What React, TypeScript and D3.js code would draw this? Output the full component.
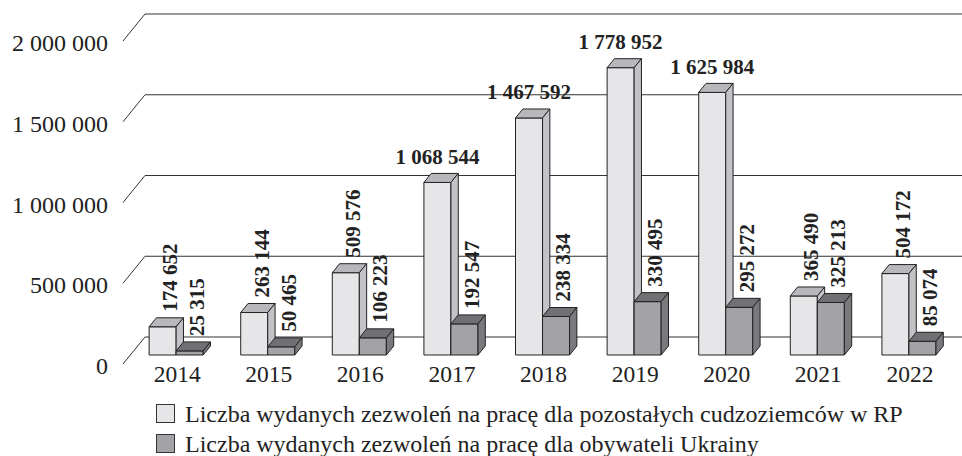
import React from "react";
import * as d3 from "d3";

const years = ["2014", "2015", "2016", "2017", "2018", "2019", "2020", "2021", "2022"];
const others = [174652, 263144, 509576, 1068544, 1467592, 1778952, 1625984, 365490, 504172];
const ukraine = [25315, 50465, 106223, 192547, 238334, 330495, 295272, 325213, 85074];
const yTicks = [0, 500000, 1000000, 1500000, 2000000];
const seriesNames = [
  "Liczba wydanych zezwoleń na pracę dla pozostałych cudzoziemców w RP",
  "Liczba wydanych zezwoleń na pracę dla obywateli Ukrainy",
];
const horizontalLabel = [false, false, false, true, true, true, true, false, false];

const W = 962;
const H = 456;
const FLOOR_FRONT_Y = 364;
const FLOOR_LEFT = 123;
const FLOOR_RIGHT = 947.4;
const DEPTH_DX = 22;
const DEPTH_DY = -27;
const BAR_DX = DEPTH_DX / 3;
const BAR_DY = DEPTH_DY / 3;

const colors = {
  light: { front: "#e6e6e8", top: "#b8b8bc", side: "#c3c3c7" },
  dark: { front: "#a3a3a7", top: "#717175", side: "#7a7a7e" },
};

const fmt = (v: number) => d3.format(",")(v).replace(/,/g, " ");

function Bar3D({ x, yb, w, h, c }: { x: number; yb: number; w: number; h: number; c: any }) {
  const yt = yb - h;
  const top = [
    [x, yt],
    [x + BAR_DX, yt + BAR_DY],
    [x + w + BAR_DX, yt + BAR_DY],
    [x + w, yt],
  ];
  const side = [
    [x + w, yt],
    [x + w + BAR_DX, yt + BAR_DY],
    [x + w + BAR_DX, yb + BAR_DY],
    [x + w, yb],
  ];
  const pts = (p: number[][]) => p.map((q) => q.join(",")).join(" ");
  return (
    <g stroke="#222" strokeWidth={1} strokeLinejoin="round">
      <rect x={x} y={yt} width={w} height={h} fill={c.front} />
      <polygon points={pts(top)} fill={c.top} />
      <polygon points={pts(side)} fill={c.side} />
    </g>
  );
}

export default function App() {
  const x = d3
    .scaleBand<string>()
    .domain(years)
    .range([FLOOR_LEFT, FLOOR_RIGHT])
    .paddingInner(0.41)
    .paddingOuter(0.205);
  const xs = d3.scaleBand<number>().domain([0, 1]).range([0, x.bandwidth()]);
  const hScale = d3.scaleLinear().domain([0, 2000000]).range([0, 323]);

  const barBaseY = FLOOR_FRONT_Y + BAR_DY;
  const serif = "'Liberation Serif', 'Times New Roman', serif";

  return (
    <div style={{ position: "absolute", left: 0, top: 0 }}>
      <svg width={W} height={H} style={{ display: "block", background: "#fff" }} fontFamily={serif}>
        {/* gridlines: side wall diagonals + back wall */}
        {yTicks.map((t) => {
          const yf = FLOOR_FRONT_Y - hScale(t);
          const yBack = yf + DEPTH_DY;
          return (
            <g key={t} stroke="#333" strokeWidth={1} fill="none">
              <line x1={FLOOR_LEFT} y1={yf} x2={FLOOR_LEFT + DEPTH_DX} y2={yBack} />
              <line x1={FLOOR_LEFT + DEPTH_DX} y1={yBack} x2={W} y2={yBack} />
            </g>
          );
        })}
        {/* y axis labels */}
        {yTicks.map((t) => (
          <text key={"l" + t} x={108} y={FLOOR_FRONT_Y - hScale(t) + 10} textAnchor="end" fontSize={24} fill="#222">
            {fmt(t)}
          </text>
        ))}
        {/* bars */}
        {years.map((yr, i) => {
          const x0 = (x(yr) as number) + BAR_DX;
          const w = xs.bandwidth();
          return (
            <g key={yr}>
              <Bar3D x={x0 + (xs(0) as number)} yb={barBaseY} w={w} h={hScale(others[i])} c={colors.light} />
              <Bar3D x={x0 + (xs(1) as number)} yb={barBaseY} w={w} h={hScale(ukraine[i])} c={colors.dark} />
            </g>
          );
        })}
        {/* data labels */}
        {years.map((yr, i) => {
          const x0 = (x(yr) as number) + BAR_DX;
          const w = xs.bandwidth();
          const items = [
            { v: others[i], bx: x0 + (xs(0) as number), horiz: horizontalLabel[i] },
            { v: ukraine[i], bx: x0 + (xs(1) as number), horiz: false },
          ];
          return items.map((it, k) => {
            const backTop = barBaseY - hScale(it.v) + BAR_DY;
            const cx = it.bx + w / 2;
            if (it.horiz) {
              return (
                <text key={yr + k} x={cx} y={backTop - 9.5} textAnchor="middle" fontSize={21} fontWeight="bold" fill="#222">
                  {fmt(it.v)}
                </text>
              );
            }
            const tx = cx + 7;
            const ty = backTop - 6;
            return (
              <text
                key={yr + k}
                transform={`translate(${tx},${ty}) rotate(-90)`}
                x={0}
                y={0}
                dy="0.35em"
                textAnchor="start"
                fontSize={21}
                fontWeight="bold"
                fill="#222"
              >
                {fmt(it.v)}
              </text>
            );
          });
        })}
        {/* category labels */}
        {years.map((yr) => (
          <text
            key={"c" + yr}
            x={(x(yr) as number) + BAR_DX + x.bandwidth() / 2 + 1}
            y={382}
            textAnchor="middle"
            fontSize={23.5}
            fill="#222"
          >
            {yr}
          </text>
        ))}
        {/* legend */}
        {seriesNames.map((name, k) => (
          <g key={name}>
            <rect
              x={156.5}
              y={404.5 + k * 30}
              width={18}
              height={18}
              fill={k === 0 ? colors.light.front : colors.dark.front}
              stroke="#333"
              strokeWidth={1}
            />
            <text x={185} y={422 + k * 30} fontSize={24} fill="#222">
              {name}
            </text>
          </g>
        ))}
      </svg>
    </div>
  );
}
